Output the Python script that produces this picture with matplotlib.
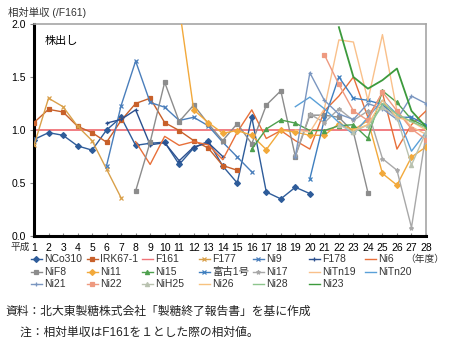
import numpy as np
import matplotlib
matplotlib.use('Agg')
import matplotlib.pyplot as plt
from matplotlib.lines import Line2D

plt.rcParams['font.family'] = ['Liberation Sans', 'Noto Sans CJK JP', 'DejaVu Sans']

years = list(range(1, 29))
n = np.nan

# relative yield (/F161), one list per variety, NaN where not grown
NCo310 = [0.91, 0.975, 0.95, 0.85, 0.81, 1.0, 1.12, 0.855, 0.875, 0.885, 0.675, 0.83, 0.895, 0.66,
          0.50, 1.12, 0.415, 0.35, 0.46, 0.40] + [n] * 8
IRK67_1 = [1.07, 1.195, 1.17, 1.035, 0.975, 0.885, 1.09, 1.25, 1.30, 1.07, 0.995, 0.90, 0.83, 0.665,
           0.62] + [n] * 13
F161 = [1.0] * 28
F177 = [0.855, 1.30, 1.22, 1.035, 0.90, 0.63, 0.36] + [n] * 21
Ni9 = [n] * 5 + [0.665, 1.23, 1.65, 1.26, 1.215, 1.09, 1.12, 1.04, 0.885, 0.745, 0.605] + [n] * 12
F178 = [n] * 5 + [1.065, 1.10, 1.19, 0.86, 0.88, 0.71, 0.84, 0.88, 0.75] + [n] * 14
Ni6 = [n] * 7 + [0.89, 0.675, 0.94, 0.855, 0.89, 0.86, 0.72, 0.98, 1.19, 0.92, 0.995, 0.90, 0.82,
                 1.18, 1.32, 1.50, 1.12, 1.35, 0.82, 1.05, 1.18]
NiF8 = [n] * 7 + [0.425, 0.885, 1.45, 1.08, 1.235, 1.06, 0.90, 1.06, 0.87, 1.235, 1.37, 0.75, 1.14,
                  1.14, 1.12, 0.98, 0.41] + [n] * 4
Ni11 = [n] * 10 + [2.16, 1.19, 1.07, 0.97, 0.995, 0.95, 0.815, 1.0, 0.98, 0.95, 0.95, 1.06, 1.0, 1.09,
                   0.59, 0.48, 0.745, 0.84]
Ni15 = [n] * 15 + [0.82, 1.01, 1.095, 1.065, 0.995, 0.995, 1.04, 1.05, 0.92, 1.37, 1.26, 1.10, 1.03]
Fuko1 = [n] * 19 + [0.54, 1.10, 1.50, 1.30, 1.28, 1.24, 1.12, 1.12, 1.05]
Ni17 = [n] * 18 + [0.76, 1.15, 1.07, 1.20, 1.09, 1.18, 0.73, 0.62, 0.08, 0.96]
NiTn19 = [n] * 18 + [1.0, 0.98, 1.20, 1.85, 1.83, 1.28, 1.90, 1.18, 1.03, 0.96]
NiTn20 = [n] * 18 + [1.22, 1.31, 1.20, 1.07, 0.96, 1.12, 1.28, 1.15, 0.80, 0.98]
Ni21 = [n] * 18 + [0.75, 1.54, 1.28, 1.15, 1.10, 1.25, 1.20, 1.10, 1.32, 1.25]
Ni22 = [n] * 20 + [1.71, 1.43, 1.18, 1.09, 1.36, 1.18, 1.01, 0.91]
NiH25 = [n] * 21 + [1.05, 0.98, 1.05, 1.22, 1.12, 0.67, 0.98]
Ni26 = [n] * 22 + [1.0, 1.05, 1.28, 1.12, 1.08, 1.0]
Ni28 = [n] * 23 + [1.0, 1.25, 1.15, 1.08, 1.02]
Ni23 = [n] * 21 + [1.97, 1.50, 1.39, 1.47, 1.58, 1.18, 1.03]

# label, data, colour, marker (legend is read row by row)
series = [
    ('NCo310', NCo310, '#2E5C9A', 'D'),
    ('IRK67-1', IRK67_1, '#C8602A', 's'),
    ('F161', F161, '#F07378', None),
    ('F177', F177, '#D9A04A', 'x'),
    ('Ni9', Ni9, '#4A7EBB', 'x'),
    ('F178', F178, '#2A4F8F', '+'),
    ('Ni6', Ni6, '#E8703A', None),
    ('NiF8', NiF8, '#8C8C8C', 's'),
    ('Ni11', Ni11, '#F2A93B', 'D'),
    ('Ni15', Ni15, '#4EA04E', '^'),
    ('富古1号', Fuko1, '#3F7FBF', 'x'),
    ('Ni17', Ni17, '#A8A8A8', '*'),
    ('NiTn19', NiTn19, '#F9C08A', None),
    ('NiTn20', NiTn20, '#5AA0D8', None),
    ('Ni21', Ni21, '#7A96C0', '+'),
    ('Ni22', Ni22, '#EE9A80', 's'),
    ('NiH25', NiH25, '#B9C2B0', '^'),
    ('Ni26', Ni26, '#F7C27F', None),
    ('Ni28', Ni28, '#8DC58D', None),
    ('Ni23', Ni23, '#3C9A3C', None),
]

W, H = 464, 356
fig = plt.figure(figsize=(W / 100, H / 100), dpi=100)
ax = fig.add_axes([34 / W, 1 - 236 / H, (426 - 34) / W, (236 - 24) / H])

for label, vals, color, marker in series:
    lw = 1.3 if label in ('F161', 'Ni23') else 1.0
    ax.plot(years, vals, color=color, lw=lw, marker=marker, markersize=3,
            markeredgewidth=0.9, zorder=3 if label != 'F161' else 2)

ax.set_xlim(1, 28)
ax.set_ylim(0, 2.0)
ax.set_xticks(years)
ax.set_xticklabels([str(y) for y in years])
ax.set_yticks([0.0, 0.5, 1.0, 1.5, 2.0])
ax.set_yticklabels(['0.0', '0.5', '1.0', '1.5', '2.0'])
ax.tick_params(axis='x', direction='in', length=2, labelsize=7.5, pad=5, color='#888888')
ax.tick_params(axis='y', direction='out', length=3, labelsize=7.5, pad=3, color='#888888')
for side in ('top', 'right'):
    ax.spines[side].set_color('#A6A6A6')
    ax.spines[side].set_linewidth(1.2)
for side in ('left', 'bottom'):
    ax.spines[side].set_color('black')
    ax.spines[side].set_linewidth(2.2)

fig.text(45 / W, 1 - 41 / H, '株出し', fontsize=8, va='center', ha='left')
fig.text(8 / W, 1 - 13 / H, '相対単収 (/F161)', fontsize=7.5, va='center', ha='left', color='#333333')
fig.text(30 / W, 1 - 247 / H, '平成', fontsize=7, va='center', ha='right', color='#333333')
fig.text(425 / W, 1 - 259 / H, '（年度）', fontsize=7, va='center', ha='center', color='#333333')

# legend, 7 columns, row by row
col_x = [43, 99, 154, 211, 265, 321, 377]
row_y = [259, 272, 284]
for i, (label, vals, color, marker) in enumerate(series):
    r, c = divmod(i, 7)
    tx, ty = col_x[c], row_y[r]
    fy = 1 - ty / H
    fig.add_artist(Line2D([(tx - 12) / W, (tx - 1) / W], [fy, fy], color=color, lw=1.0,
                          transform=fig.transFigure))
    if marker:
        fig.add_artist(Line2D([(tx - 6.5) / W], [fy], color=color, marker=marker, markersize=3,
                              markeredgewidth=0.9, transform=fig.transFigure))
    fig.text((tx + 1) / W, fy, label, fontsize=7.5, va='center', ha='left', color='#333333')

fig.text(5 / W, 1 - 312 / H, '資料：北大東製糖株式会社「製糖終了報告書」を基に作成',
         fontsize=8.5, va='center', ha='left', color='#222222')
fig.text(5 / W, 1 - 333 / H, '　 注：相対単収はF161を１とした際の相対値。',
         fontsize=8.5, va='center', ha='left', color='#222222')

fig.savefig('out.png', dpi=100)
